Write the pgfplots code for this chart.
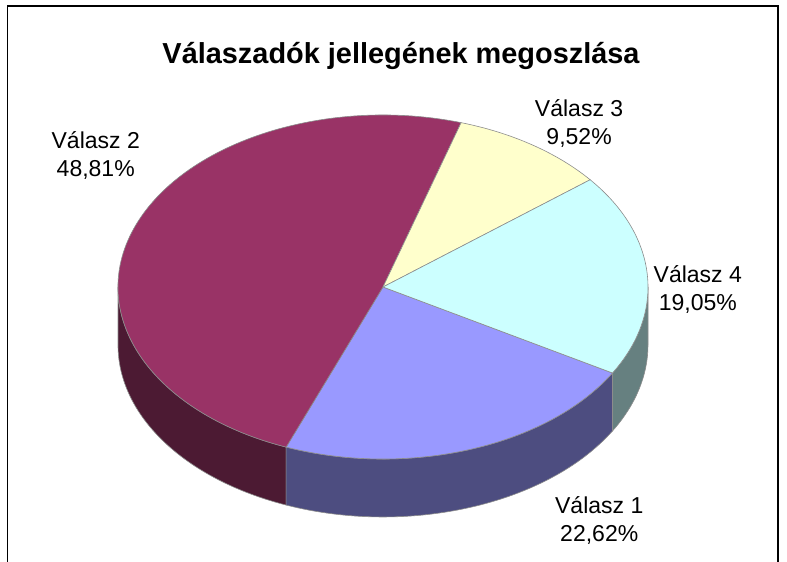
\documentclass[border=0pt]{standalone}
\usepackage{pgfplots}
\usepackage{pgfplotstable}
\pgfplotsset{compat=1.18}
\usepackage{fontspec}
\setmainfont{Liberation Sans}
\definecolor{topA}{HTML}{9999FF}\definecolor{sideA}{HTML}{4D4D80}
\definecolor{topB}{HTML}{993366}\definecolor{sideB}{HTML}{4C1A33}
\definecolor{topC}{HTML}{FFFFCC}
\definecolor{topD}{HTML}{CCFFFF}\definecolor{sideD}{HTML}{668080}
\definecolor{edge}{HTML}{8C8C8C}
\pgfplotstableread[col sep=comma]{
label,value
Válasz 1,22.62
Válasz 2,48.81
Válasz 3,9.52
Válasz 4,19.05
}\piedata
\begin{document}
\begin{tikzpicture}
\pgfplotstablegetelem{0}{value}\of\piedata\pgfmathsetmacro\va{\pgfplotsretval}
\pgfplotstablegetelem{1}{value}\of\piedata\pgfmathsetmacro\vb{\pgfplotsretval}
\pgfplotstablegetelem{2}{value}\of\piedata\pgfmathsetmacro\vc{\pgfplotsretval}
\pgfplotstablegetelem{3}{value}\of\piedata\pgfmathsetmacro\vd{\pgfplotsretval}
\pgfmathsetmacro\ta{-30}
\pgfmathsetmacro\tb{\ta-3.6*\va}
\pgfmathsetmacro\tc{\tb-3.6*\vb}
\pgfmathsetmacro\td{\tc-3.6*\vc}
\pgfmathsetmacro\te{\td-3.6*\vd}
\def\rx{265pt}\def\ry{172pt}\def\dep{0.337}
\begin{axis}[hide axis, clip=false, x=265pt, y=172pt,
  xmin=-1, xmax=1, ymin=-1, ymax=1,
  anchor=center, at={(383pt,275pt)}]
  % sides
  \filldraw[fill=sideB, draw=edge, line width=0.6pt]
    (axis cs:-1,0) arc[start angle=-180, end angle=\tb, x radius=\rx, y radius=\ry]
    -- (axis cs:{cos(\tb)},{sin(\tb)-\dep}) arc[start angle=\tb, end angle=-180, x radius=\rx, y radius=\ry] -- cycle;
  \filldraw[fill=sideA, draw=edge, line width=0.6pt]
    (axis cs:{cos(\tb)},{sin(\tb)}) arc[start angle=\tb, end angle=\ta, x radius=\rx, y radius=\ry]
    -- (axis cs:{cos(\ta)},{sin(\ta)-\dep}) arc[start angle=\ta, end angle=\tb, x radius=\rx, y radius=\ry] -- cycle;
  \filldraw[fill=sideD, draw=edge, line width=0.6pt]
    (axis cs:{cos(\ta)},{sin(\ta)}) arc[start angle=\ta, end angle=0, x radius=\rx, y radius=\ry]
    -- (axis cs:1,{-\dep}) arc[start angle=0, end angle=\ta, x radius=\rx, y radius=\ry] -- cycle;
  % tops
  \filldraw[fill=topA, draw=edge, line width=0.6pt]
    (axis cs:0,0) -- (axis cs:{cos(\ta)},{sin(\ta)}) arc[start angle=\ta, end angle=\tb, x radius=\rx, y radius=\ry] -- cycle;
  \filldraw[fill=topB, draw=edge, line width=0.6pt]
    (axis cs:0,0) -- (axis cs:{cos(\tb)},{sin(\tb)}) arc[start angle=\tb, end angle=\tc, x radius=\rx, y radius=\ry] -- cycle;
  \filldraw[fill=topC, draw=edge, line width=0.6pt]
    (axis cs:0,0) -- (axis cs:{cos(\tc)},{sin(\tc)}) arc[start angle=\tc, end angle=\td, x radius=\rx, y radius=\ry] -- cycle;
  \filldraw[fill=topD, draw=edge, line width=0.6pt]
    (axis cs:0,0) -- (axis cs:{cos(\td)},{sin(\td)}) arc[start angle=\td, end angle=\te, x radius=\rx, y radius=\ry] -- cycle;
  % labels
  \begin{scope}[every node/.style={anchor=base, inner sep=0pt, font=\fontsize{23}{26}\selectfont}]
  \node at (axis cs:-1.084,0.806) {Válasz 2};
  \node at (axis cs:-1.084,0.641) {48,81\%};
  \node at (axis cs:0.740,0.994) {Válasz 3};
  \node at (axis cs:0.740,0.831) {9,52\%};
  \node at (axis cs:1.188,0.027) {Válasz 4};
  \node at (axis cs:1.188,-0.134) {19,05\%};
  \node at (axis cs:0.816,-1.316) {Válasz 1};
  \node at (axis cs:0.816,-1.481) {22,62\%};
  \end{scope}
  \node[anchor=base, inner sep=0pt, font=\bfseries\fontsize{28.9}{34}\selectfont] at (axis cs:0.068,1.302) {Válaszadók jellegének megoszlása};
\end{axis}
\draw[line width=1.2pt, black] (7.5pt,-5pt) -- (7.5pt,556pt) -- (778pt,556pt) -- (778pt,-5pt);
\pgfresetboundingbox
\path[use as bounding box] (0pt,0pt) rectangle (787pt,562pt);
\end{tikzpicture}
\end{document}
